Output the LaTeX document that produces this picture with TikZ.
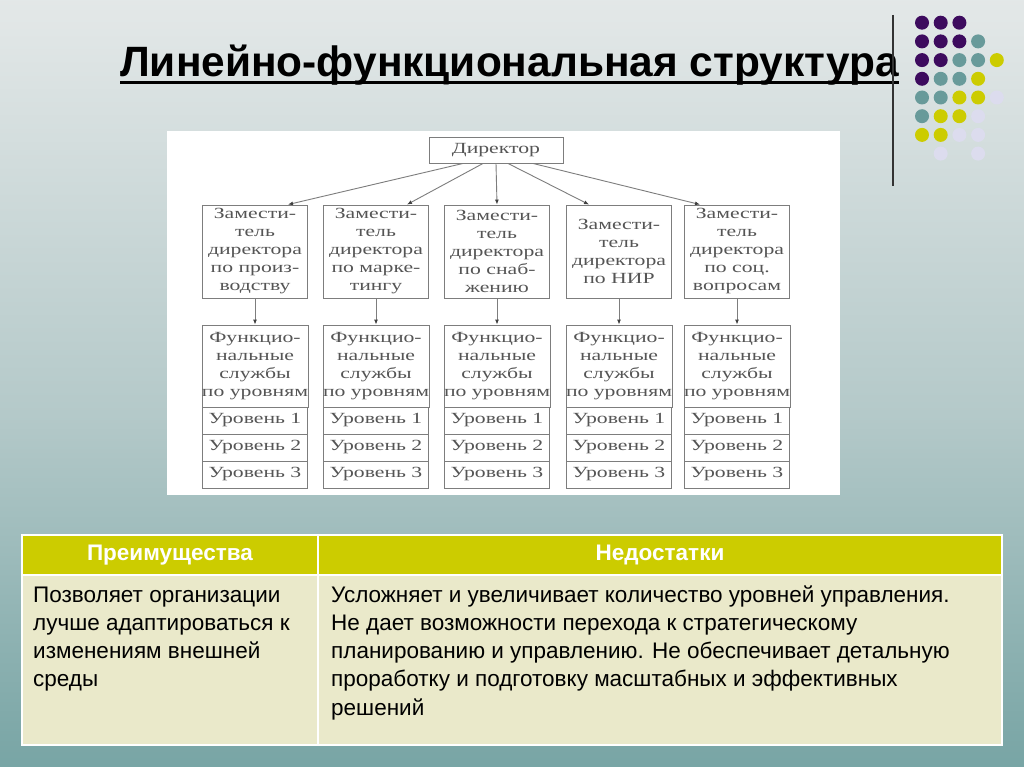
\documentclass[tikz,border=0pt]{standalone}
\usepackage{fontspec}
\setmainfont{Liberation Sans}
\newfontfamily\scanfont[FakeStretch=1.4]{Liberation Serif}
\usetikzlibrary{arrows.meta}

\definecolor{dotpurple}{RGB}{61,11,94}
\definecolor{dotteal}{RGB}{104,154,154}
\definecolor{dotyellow}{RGB}{204,204,0}
\definecolor{dotlilac}{RGB}{220,220,238}
\definecolor{headfill}{RGB}{204,204,0}
\definecolor{bodyfill}{RGB}{234,233,202}
\definecolor{boxline}{RGB}{125,125,125}
\definecolor{boxtext}{RGB}{85,85,85}
\definecolor{bgA}{RGB}{88,142,142}
\definecolor{bgB}{RGB}{112,160,160}
\definecolor{bgC}{RGB}{180,201,201}
\definecolor{bgD}{RGB}{226,231,231}
\definecolor{bgE}{RGB}{244,245,245}

\pgfdeclareverticalshading{slidebg}{100bp}{color(0bp)=(bgA); color(22bp)=(bgB);
  color(48bp)=(bgC); color(74bp)=(bgD); color(100bp)=(bgE)}

\tikzset{
  box/.style={draw=boxline, line width=0.9pt, text=boxtext, align=center,
    font=\scanfont\fontsize{15.5}{18}\selectfont, inner sep=0pt},
  zambox/.style={box, minimum width=105pt, minimum height=93pt},
  slbox/.style={box, minimum width=105pt, minimum height=82pt},
  lvbox/.style={box, minimum width=105pt, minimum height=27pt},
  cell/.style={draw=white, line width=1.5pt},
  headtext/.style={text=white, font=\bfseries\fontsize{22.5}{26}\selectfont},
  celltext/.style={anchor=north west, align=left, inner sep=0pt,
    font=\fontsize{22.5}{28.3}\selectfont},
}

\begin{document}
\begin{tikzpicture}[x=1pt,y=-1pt]

  \useasboundingbox (0,0) rectangle (1024,767);
  \shade[shading=slidebg] (0,0) rectangle (1024,767);

  % dots
  \foreach \c/\r/\col in {0/0/dotpurple,1/0/dotpurple,2/0/dotpurple,
      0/1/dotpurple,1/1/dotpurple,2/1/dotpurple,3/1/dotteal,
      0/2/dotpurple,1/2/dotpurple,2/2/dotteal,3/2/dotteal,4/2/dotyellow,
      0/3/dotpurple,1/3/dotteal,2/3/dotteal,3/3/dotyellow,
      0/4/dotteal,1/4/dotteal,2/4/dotyellow,3/4/dotyellow,4/4/dotlilac,
      0/5/dotteal,1/5/dotyellow,2/5/dotyellow,3/5/dotlilac,
      0/6/dotyellow,1/6/dotyellow,2/6/dotlilac,3/6/dotlilac,
      1/7/dotlilac,3/7/dotlilac}
    \fill[\col] (922+18.7*\c,22.7+18.7*\r) circle[radius=7pt];

  % title
  \node[anchor=base west, inner sep=0pt, font=\bfseries\fontsize{42.4}{48}\selectfont]
    (title) at (120,77) {Линейно-функциональная структура};
  \draw[line width=3pt] ([yshift=-6pt]title.base west) -- ([yshift=-6pt]title.base east);
  \draw[line width=1.5pt, black!80] (893,15) -- (893,186);

  % scheme
  \fill[white] (167,131) rectangle (840,495);

  \node[box, minimum width=134pt, minimum height=26pt] (dir) at (496,150) {Директор};

  \begin{scope}[every node/.style={zambox}]
    \node (z1) at (255,251.5) {Замести-\\тель\\директора\\по произ-\\водству};
    \node (z2) at (376,251.5) {Замести-\\тель\\директора\\по марке-\\тингу};
    \node (z3) at (497,251.5) {Замести-\\тель\\директора\\по снаб-\\жению};
    \node (z4) at (619,251.5) {Замести-\\тель\\директора\\по НИР};
    \node (z5) at (737,251.5) {Замести-\\тель\\директора\\по соц.\\вопросам};
  \end{scope}

  \begin{scope}[every node/.style={slbox}]
    \node (s1) at (255,366) {Функцио-\\нальные\\службы\\по уровням};
    \node (s2) at (376,366) {Функцио-\\нальные\\службы\\по уровням};
    \node (s3) at (497,366) {Функцио-\\нальные\\службы\\по уровням};
    \node (s4) at (619,366) {Функцио-\\нальные\\службы\\по уровням};
    \node (s5) at (737,366) {Функцио-\\нальные\\службы\\по уровням};
  \end{scope}

  \foreach \i/\x in {1/255,2/376,3/497,4/619,5/737}
    \foreach \j/\y in {1/420.5,2/447.5,3/474.5}
      \node[lvbox] (u\i\j) at (\x,\y) {Уровень \j};

  \begin{scope}[every edge/.style={draw=boxline, line width=0.9pt,
      -{Latex[length=5pt,width=4pt,color=black!75]}}]
    \path ([xshift=-33pt]dir.south) edge ([xshift=33pt]z1.north);
    \path ([xshift=-13pt]dir.south) edge ([xshift=31pt]z2.north);
    \path (dir.south) edge (z3.north);
    \path ([xshift=12pt]dir.south) edge ([xshift=-30pt]z4.north);
    \path ([xshift=37pt]dir.south) edge ([xshift=-37pt]z5.north);
    \foreach \i in {1,...,5}
      \path (z\i) edge (s\i);
  \end{scope}

  % table
  \fill[headfill] (22,535) rectangle (1002,575);
  \fill[bodyfill] (22,575) rectangle (1002,745);
  \draw[cell] (22,535) rectangle (318,575);
  \draw[cell] (318,535) rectangle (1002,575);
  \draw[cell] (22,575) rectangle (318,745);
  \draw[cell] (318,575) rectangle (1002,745);

  \node[headtext] (hpro) at (170,555) {Преимущества};
  \node[headtext] (hcon) at (660,555) {Недостатки};

  \node[celltext] (tpro) at (33,582) {\strut Позволяет организации\\лучше адаптироваться к\\изменениям внешней\\среды};
  \node[celltext] (tcon) at (331,582) {\strut Усложняет и увеличивает количество уровней управления.\\Не дает возможности перехода к стратегическому\\планированию и управлению. Не обеспечивает детальную\\проработку и подготовку масштабных и эффективных\\решений};

\end{tikzpicture}
\end{document}
